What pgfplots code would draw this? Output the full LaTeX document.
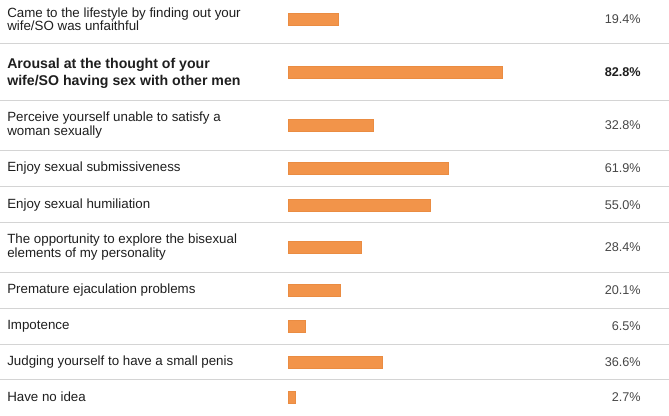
\documentclass[border=0pt]{standalone}
\usepackage{pgfplots}
\pgfplotsset{compat=1.18}
\usepackage{fontspec}
\setmainfont{Liberation Sans}
\definecolor{barfill}{RGB}{242,148,74}
\definecolor{bardraw}{RGB}{234,140,66}
\definecolor{labtext}{RGB}{30,30,30}
\definecolor{pcttext}{RGB}{70,70,70}
\definecolor{sep}{RGB}{212,212,212}
\begin{document}
\begin{tikzpicture}
\begin{axis}[name=ax, scale only axis, width=501.75pt, height=311.25pt,
  xmin=-111.41, xmax=147.39, ymin=0, ymax=415, y dir=reverse,
  axis line style={draw=none}, xtick=\empty,
  ytick={43,100,150,186,222,272,308,344,379}, yticklabels={},
  major tick length=0pt, ymajorgrids, grid style={sep, line width=0.75pt},
  clip=false]
\addplot[xbar, bar width=12, fill=barfill, draw=bardraw, line width=0.2pt]
  coordinates {(19.4,19) (82.8,72) (32.8,125) (61.9,168.5) (55.0,205)
               (28.4,247) (20.1,290) (6.5,326) (36.6,362) (2.7,397)};
\tikzset{lab/.style={anchor=west, align=left, inner sep=0pt, text=labtext,
    font=\fontsize{10}{10}\selectfont},
  pct/.style={anchor=east, inner sep=0pt, text=pcttext,
    font=\fontsize{9.5}{10}\selectfont}}
\node[lab] at (axis cs:-108.7,19) {Came to the lifestyle by finding out your\\wife/SO was unfaithful};
\node[lab, font=\bfseries\fontsize{10.6}{12.75}\selectfont] at (axis cs:-108.7,73) {Arousal at the thought of your\\wife/SO having sex with other men};
\node[lab] at (axis cs:-108.7,125) {Perceive yourself unable to satisfy a\\woman sexually};
\node[lab] at (axis cs:-108.7,168.5) {Enjoy sexual submissiveness};
\node[lab] at (axis cs:-108.7,205) {Enjoy sexual humiliation};
\node[lab] at (axis cs:-108.7,247) {The opportunity to explore the bisexual\\elements of my personality};
\node[lab] at (axis cs:-108.7,290) {Premature ejaculation problems};
\node[lab] at (axis cs:-108.7,326) {Impotence};
\node[lab] at (axis cs:-108.7,362) {Judging yourself to have a small penis};
\node[lab] at (axis cs:-108.7,397) {Have no idea};
\node[pct] at (axis cs:136.56,19) {19.4\%};
\node[pct, text=labtext, font=\bfseries\fontsize{9.5}{10}\selectfont] at (axis cs:136.56,72) {82.8\%};
\node[pct] at (axis cs:136.56,125) {32.8\%};
\node[pct] at (axis cs:136.56,168.5) {61.9\%};
\node[pct] at (axis cs:136.56,205) {55.0\%};
\node[pct] at (axis cs:136.56,247) {28.4\%};
\node[pct] at (axis cs:136.56,290) {20.1\%};
\node[pct] at (axis cs:136.56,326) {6.5\%};
\node[pct] at (axis cs:136.56,362) {36.6\%};
\node[pct] at (axis cs:136.56,397) {2.7\%};
\end{axis}
\pgfresetboundingbox
\path[use as bounding box] (ax.south west) rectangle (ax.north east);
\end{tikzpicture}
\end{document}
